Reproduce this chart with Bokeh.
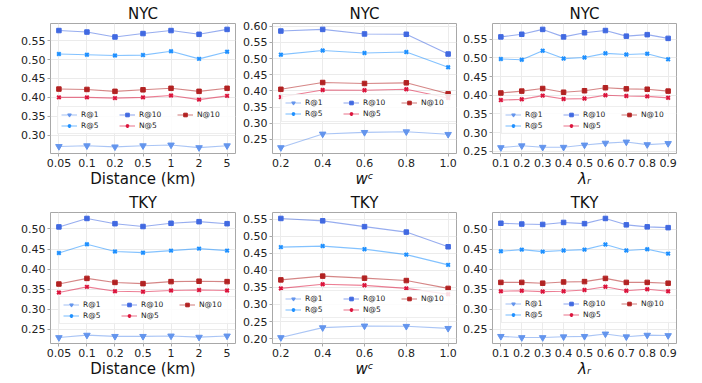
from bokeh.plotting import figure
from bokeh.layouts import column, row
from bokeh.models import Range1d, FixedTicker, Legend, LegendItem, PrintfTickFormatter
from bokeh.embed import file_html
from bokeh.resources import INLINE

# ---------------- data ----------------
dist_labels = ["0.05", "0.1", "0.2", "0.5", "1", "2", "5"]
wc_values = [0.2, 0.4, 0.6, 0.8, 1.0]
lambda_values = [0.1, 0.2, 0.3, 0.4, 0.5, 0.6, 0.7, 0.8, 0.9]
metrics = ["R@1", "R@5", "R@10", "N@5", "N@10"]

# NYC - distance
nyc_dist_r1 = [0.270, 0.272, 0.269, 0.272, 0.274, 0.267, 0.272]
nyc_dist_r5 = [0.515, 0.513, 0.511, 0.512, 0.522, 0.502, 0.521]
nyc_dist_r10 = [0.577, 0.573, 0.560, 0.569, 0.577, 0.567, 0.580]
nyc_dist_n5 = [0.400, 0.400, 0.398, 0.400, 0.405, 0.394, 0.404]
nyc_dist_n10 = [0.422, 0.421, 0.416, 0.420, 0.424, 0.416, 0.424]

# NYC - w^c
nyc_wc_r1 = [0.225, 0.267, 0.272, 0.274, 0.266]
nyc_wc_r5 = [0.512, 0.525, 0.517, 0.520, 0.473]
nyc_wc_r10 = [0.585, 0.590, 0.576, 0.575, 0.514]
nyc_wc_n5 = [0.381, 0.403, 0.402, 0.405, 0.378]
nyc_wc_n10 = [0.405, 0.426, 0.423, 0.425, 0.391]

# NYC - lambda_r
nyc_lam_r1 = [0.260, 0.265, 0.261, 0.261, 0.267, 0.272, 0.275, 0.268, 0.271]
nyc_lam_r5 = [0.497, 0.495, 0.519, 0.498, 0.501, 0.512, 0.509, 0.511, 0.496]
nyc_lam_r10 = [0.556, 0.563, 0.576, 0.556, 0.567, 0.573, 0.558, 0.562, 0.552]
nyc_lam_n5 = [0.387, 0.389, 0.399, 0.390, 0.391, 0.400, 0.398, 0.397, 0.393]
nyc_lam_n10 = [0.406, 0.411, 0.418, 0.408, 0.412, 0.420, 0.417, 0.416, 0.411]

# TKY - distance
tky_dist_r1 = [0.230, 0.236, 0.233, 0.233, 0.234, 0.231, 0.234]
tky_dist_r5 = [0.440, 0.462, 0.444, 0.441, 0.446, 0.451, 0.446]
tky_dist_r10 = [0.505, 0.526, 0.513, 0.506, 0.514, 0.518, 0.513]
tky_dist_n5 = [0.342, 0.356, 0.345, 0.344, 0.347, 0.348, 0.347]
tky_dist_n10 = [0.363, 0.377, 0.367, 0.364, 0.369, 0.370, 0.369]

# TKY - w^c
tky_wc_r1 = [0.203, 0.232, 0.237, 0.236, 0.230]
tky_wc_r5 = [0.468, 0.471, 0.462, 0.446, 0.416]
tky_wc_r10 = [0.552, 0.545, 0.528, 0.512, 0.469]
tky_wc_n5 = [0.347, 0.359, 0.356, 0.347, 0.330]
tky_wc_n10 = [0.372, 0.383, 0.377, 0.370, 0.347]

# TKY - lambda_r
tky_lam_r1 = [0.232, 0.229, 0.229, 0.231, 0.232, 0.238, 0.231, 0.235, 0.234]
tky_lam_r5 = [0.445, 0.449, 0.444, 0.447, 0.449, 0.462, 0.447, 0.450, 0.439]
tky_lam_r10 = [0.515, 0.513, 0.512, 0.517, 0.514, 0.527, 0.511, 0.506, 0.504]
tky_lam_n5 = [0.345, 0.346, 0.344, 0.345, 0.348, 0.356, 0.346, 0.350, 0.345]
tky_lam_n10 = [0.367, 0.367, 0.365, 0.368, 0.369, 0.377, 0.367, 0.367, 0.365]

# ---------------- styles ----------------
FONT = "DejaVu Sans"
STYLE = {
    "R@1": dict(marker="inverted_triangle", color="#6495ED", size=6.5, lw=1),
    "R@5": dict(marker="x", color="#1E90FF", size=5, lw=2),
    "R@10": dict(marker="square", color="#4169E1", size=4.5, lw=1),
    "N@5": dict(marker="x", color="#DC143C", size=5, lw=2),
    "N@10": dict(marker="square", color="#B22222", size=4.5, lw=1),
}


def make_panel(title, xs, series, width, height, bl, br, bt, bb,
               xticks, xlabel, italic, legend_off, x_overrides=None, xfmt="%.1f"):
    ys_all = [v for s in series for v in s]
    lo, hi = min(ys_all), max(ys_all)
    pad = 0.05 * (hi - lo)
    xlo, xhi = min(xs), max(xs)
    xpad = 0.05 * (xhi - xlo)
    p = figure(width=width, height=height, output_backend="svg", toolbar_location=None,
               x_range=Range1d(xlo - xpad, xhi + xpad), y_range=Range1d(lo - pad, hi + pad),
               min_border_left=bl, min_border_right=br, min_border_top=bt, min_border_bottom=bb,
               title=title)
    p.background_fill_color = "white"
    p.border_fill_color = "white"
    p.outline_line_color = "#a8a8a8"
    p.outline_line_width = 1
    p.title.text_font = FONT
    p.title.text_font_size = "15px"
    p.title.text_font_style = "normal"
    p.title.align = "center"
    p.title.standoff = 2
    p.title.text_color = "#111111"

    for ax in (p.xaxis[0], p.yaxis[0]):
        ax.axis_line_color = None
        ax.major_tick_line_color = "#a8a8a8"
        ax.major_tick_out = 3
        ax.major_tick_in = 0
        ax.minor_tick_line_color = None
        ax.major_label_text_font = FONT
        ax.major_label_text_font_size = "11px"
        ax.major_label_text_color = "#222222"
        ax.major_label_standoff = 2

    p.xaxis.ticker = FixedTicker(ticks=list(xticks))
    if x_overrides:
        p.xaxis.major_label_overrides = x_overrides
    else:
        p.xaxis.formatter = PrintfTickFormatter(format=xfmt)
    p.yaxis.ticker = FixedTicker(ticks=[0.15, 0.20, 0.25, 0.30, 0.35, 0.40, 0.45, 0.50, 0.55, 0.60, 0.65])
    p.yaxis.formatter = PrintfTickFormatter(format="%.2f")
    p.xaxis.axis_label = xlabel
    p.xaxis.axis_label_text_font = FONT
    p.xaxis.axis_label_text_font_size = "15px"
    p.xaxis.axis_label_text_font_style = "italic" if italic else "normal"
    p.xaxis.axis_label_text_color = "#111111"
    p.xaxis.axis_label_standoff = 0

    p.xgrid.grid_line_color = "#ebebeb"
    p.ygrid.grid_line_color = "#ebebeb"

    items = []
    for name, ys in zip(metrics, series):
        st = STYLE[name]
        l = p.line(xs, ys, line_color=st["color"], line_alpha=0.55, line_width=1.1)
        s = p.scatter(xs, ys, marker=st["marker"], size=st["size"], fill_color=st["color"],
                      line_color=st["color"], line_width=st["lw"])
        items.append(LegendItem(label=name, renderers=[l, s]))
    leg = Legend(items=items, location=legend_off, ncols=3)
    leg.label_text_font = FONT
    leg.label_text_font_size = "7.5px"
    leg.label_text_color = "#222222"
    leg.glyph_width = 16
    leg.glyph_height = 9
    leg.label_height = 9
    leg.label_width = 36
    leg.label_standoff = 4
    leg.spacing = 2
    leg.padding = 3
    leg.margin = 0
    leg.border_line_color = "#dddddd"
    leg.background_fill_alpha = 0.85
    p.add_layout(leg)
    return p


dist_idx = list(range(len(dist_labels)))
dist_over = {i: lab for i, lab in enumerate(dist_labels)}

W1, W2, W3 = 240, 220, 242
H1, H2 = 190, 193

p1 = make_panel("NYC", dist_idx, [nyc_dist_r1, nyc_dist_r5, nyc_dist_r10, nyc_dist_n5, nyc_dist_n10],
                W1, H1, 50, 5, 23, 35, dist_idx, "Distance (km)", False, (7, 19), x_overrides=dist_over)
p2 = make_panel("NYC", wc_values, [nyc_wc_r1, nyc_wc_r5, nyc_wc_r10, nyc_wc_n5, nyc_wc_n10],
                W2, H1, 32, 4, 23, 35, wc_values, "w\u1d9c", True, (9, 31))
p3 = make_panel("NYC", lambda_values, [nyc_lam_r1, nyc_lam_r5, nyc_lam_r10, nyc_lam_n5, nyc_lam_n10],
                W3, H1, 32, 26, 23, 35, lambda_values, "\u03bb\u1d63", True, (9, 19))
p4 = make_panel("TKY", dist_idx, [tky_dist_r1, tky_dist_r5, tky_dist_r10, tky_dist_n5, tky_dist_n10],
                W1, H2, 50, 5, 20, 40, dist_idx, "Distance (km)", False, (9, 19), x_overrides=dist_over)
p5 = make_panel("TKY", wc_values, [tky_wc_r1, tky_wc_r5, tky_wc_r10, tky_wc_n5, tky_wc_n10],
                W2, H2, 32, 4, 20, 40, wc_values, "w\u1d9c", True, (9, 25))
p6 = make_panel("TKY", lambda_values, [tky_lam_r1, tky_lam_r5, tky_lam_r10, tky_lam_n5, tky_lam_n10],
                W3, H2, 32, 26, 20, 40, lambda_values, "\u03bb\u1d63", True, (9, 20))

layout = column(row(p1, p2, p3), row(p4, p5, p6))

open("out.html", "w").write(file_html(layout, INLINE))
